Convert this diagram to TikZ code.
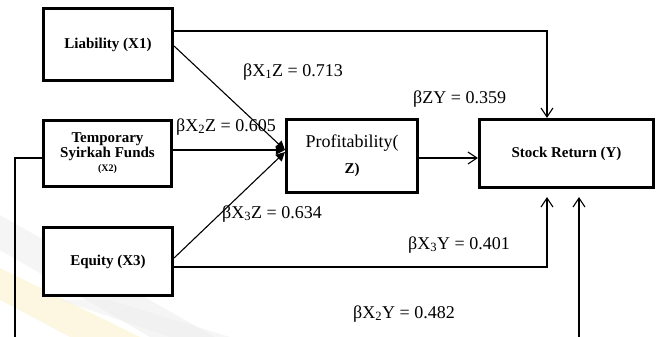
\documentclass[tikz,border=0pt]{standalone}
\usepackage{fontspec}
\setmainfont{Liberation Serif}
\usetikzlibrary{arrows.meta}
\definecolor{wmgray}{RGB}{238,238,238}
\definecolor{wmyellow}{RGB}{252,244,214}
\tikzset{
  box/.style={draw, line width=2.6pt, fill=white, inner sep=1pt, align=center},
  boldtxt/.style={font=\fontsize{15}{16.5}\selectfont\bfseries},
  conn/.style={line width=1.1pt},
  openarrow/.style={conn, -{Straight Barb[length=9pt,width=12pt,line width=1.1pt]}},
  fillarrow/.style={conn, -{Triangle[length=9pt,width=9pt]}},
  coef/.style={inner sep=0pt, anchor=base west, font=\fontsize{18}{20}\selectfont}
}
\begin{document}
\begin{tikzpicture}[x=1pt,y=-1pt]
\useasboundingbox (0,0) rectangle (658,337);
% faint watermark bands
\fill[wmgray, opacity=0.6] (0,215) -- (0,250) -- (150,337) -- (215,337) -- cycle;
\fill[wmyellow, opacity=0.7] (0,268) -- (0,300) -- (70,337) -- (140,337) -- cycle;
\fill[wmgray, opacity=0.5] (60,300) -- (110,300) -- (230,337) -- (170,337) -- cycle;
% boxes
\node[box, boldtxt, minimum width=129.5pt, minimum height=72.5pt] (lia) at (108,44.5) {Liability (X1)};
\node[box, boldtxt, minimum width=128.5pt, minimum height=66.5pt] (tsf) at (107.5,153.5)
  {Temporary\\[-2pt] Syirkah Funds\\[-2pt] {\fontsize{10}{11}\selectfont (X2)}};
\node[box, boldtxt, minimum width=129.5pt, minimum height=68.5pt] (eq) at (108,261.5) {Equity (X3)};
\node[box, minimum width=131.5pt, minimum height=73.5pt, font=\fontsize{18}{26}\selectfont] (prof) at (352,156)
  {Profitability(\\ {\fontsize{15}{16}\selectfont\bfseries Z)}};
\node[box, boldtxt, minimum width=174.5pt, minimum height=68.5pt] (sr) at (566.5,153.5) {Stock Return (Y)};
% connectors
\draw[openarrow] ([yshift=13.5pt]lia.east) -| ([xshift=-19.5pt]sr.north);
\draw[fillarrow] ([yshift=-1.5pt]lia.east) -- ([yshift=6pt]prof.west);
\draw[fillarrow] ([yshift=3.5pt]tsf.east) -- ([yshift=6pt]prof.west);
\draw[fillarrow] ([yshift=3.5pt]eq.east) -- ([yshift=4pt]prof.west);
\draw[openarrow] ([yshift=-2pt]prof.east) -- ([yshift=-4.5pt]sr.west);
\draw[openarrow] ([yshift=-5.5pt]eq.east) -| ([xshift=-19.5pt,yshift=-8pt]sr.south);
\coordinate (bl) at (15,345);
\draw[openarrow] ([yshift=-4.5pt]tsf.west) -| (bl) -| ([xshift=12.5pt,yshift=-8pt]sr.south);
% coefficients
\node[coef] (c1) at (243,76) {βX\textsubscript{1}Z = 0.713};
\node[coef] (c2) at (176,131) {βX\textsubscript{2}Z = 0.605};
\node[coef] (c3) at (413,103) {βZY = 0.359};
\node[coef] (c4) at (222,218) {βX\textsubscript{3}Z = 0.634};
\node[coef] (c5) at (408,249) {βX\textsubscript{3}Y = 0.401};
\node[coef] (c6) at (353,318) {βX\textsubscript{2}Y = 0.482};
\end{tikzpicture}
\end{document}
